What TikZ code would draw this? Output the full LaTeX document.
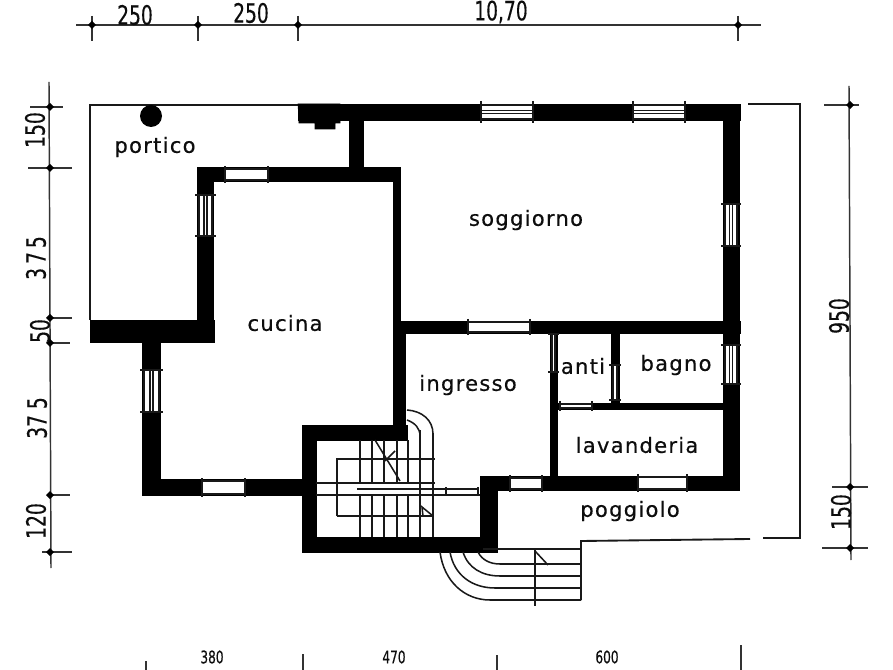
\documentclass[tikz,border=0pt]{standalone}
\usepackage{fontspec}
\setmainfont{DejaVu Sans}
\newfontfamily\roomf[LetterSpace=6,FakeBold=0.4]{DejaVu Sans}
\newfontfamily\dimf[FakeStretch=0.7,FakeBold=0.3]{DejaVu Sans}
\tikzset{
  wall/.style={fill=black,draw=black,line width=0.4pt},
  thin/.style={line width=1.4pt,black!90},
  stairl/.style={line width=1.15pt,black!90},
  dimline/.style={line width=1.1pt,black!80},
  dimdot/.style={fill=black,draw=none},
  room/.style={font=\roomf\fontsize{15.8}{18}\selectfont,inner sep=0pt,black!95},
  dimt/.style={font=\dimf\fontsize{20}{22}\selectfont,inner sep=0pt,black!95},
  vdimt/.style={dimt,rotate=90},
  dimlow/.style={font=\dimf\fontsize{13}{14}\selectfont,inner sep=0pt,black!95},
}
\newcommand{\winh}[4]{% x1 x2 y1 y2
  \fill[white] (#1,#3) rectangle (#2,#4);
  \draw[stairl] (#1,#3+1) -- (#2,#3+1);
  \draw[stairl] (#1,#4-1) -- (#2,#4-1);
  \draw[stairl] (#1,{(#3+#4)/2-1.5}) -- (#2,{(#3+#4)/2-1.5});
  \draw[stairl] (#1,{(#3+#4)/2+1.5}) -- (#2,{(#3+#4)/2+1.5});
  \draw[stairl] (#1,#3-3) -- (#1,#4+3);
  \draw[stairl] (#2,#3-3) -- (#2,#4+3);
}
\newcommand{\winv}[4]{% y1 y2 x1 x2
  \fill[white] (#3,#1) rectangle (#4,#2);
  \draw[stairl] (#3+1,#1) -- (#3+1,#2);
  \draw[stairl] (#4-1,#1) -- (#4-1,#2);
  \draw[stairl] ({(#3+#4)/2-1.5},#1) -- ({(#3+#4)/2-1.5},#2);
  \draw[stairl] ({(#3+#4)/2+1.5},#1) -- ({(#3+#4)/2+1.5},#2);
  \draw[stairl] (#3-3,#1) -- (#4+3,#1);
  \draw[stairl] (#3-3,#2) -- (#4+3,#2);
}
\newcommand{\doorh}[4]{%
  \fill[white] (#1,#3) rectangle (#2,#4);
  \draw[stairl] (#1,#3+1) -- (#2,#3+1);
  \draw[stairl] (#1,#4-1) -- (#2,#4-1);
  \draw[stairl] (#1,#3-2) -- (#1,#4+2);
  \draw[stairl] (#2,#3-2) -- (#2,#4+2);
}
\newcommand{\doorv}[4]{%
  \fill[white] (#3,#1) rectangle (#4,#2);
  \draw[stairl] (#3+1,#1) -- (#3+1,#2);
  \draw[stairl] (#4-1,#1) -- (#4-1,#2);
  \draw[stairl] (#3-3,#1) -- (#4+3,#1);
  \draw[stairl] (#3-3,#2) -- (#4+3,#2);
}
\begin{document}
\begin{tikzpicture}[x=0.75pt,y=-0.75pt]
\useasboundingbox (0,0) rectangle (893,670);
\fill[white] (0,0) rectangle (893,670);

% thin outline of portico and balcony
\draw[thin] (298,105) -- (90,105) -- (90,320);
\draw[thin] (748,104) -- (800,104) -- (800,538) -- (763,538);
\draw[thin] (750,539) -- (581,541) -- (581,600);

% column
\fill (151,116) circle (11);

% walls
\path[wall] (298,104) rectangle (740,120);
\path[wall] (298,104) -- (340,104) -- (340,123) -- (335,123) -- (335,129) -- (315,129) -- (315,123) -- (299,123) -- cycle;
\path[wall] (349,118) rectangle (363,170);
\path[wall] (197,167) rectangle (400,181);
\path[wall] (197,167) rectangle (213,322);
\path[wall] (90,320) rectangle (214,342);
\path[wall] (142,342) rectangle (160,495);
\path[wall] (143,479) rectangle (304,495);
\path[wall] (302,425) rectangle (407,440);
\path[wall] (302,425) rectangle (316,552);
\path[wall] (302,537) rectangle (497,552);
\path[wall] (480,477) rectangle (497,552);
\path[wall] (393,178) rectangle (400,335);
\path[wall] (393,330) rectangle (405,430);
\path[wall] (393,321) rectangle (740,333);
\path[wall] (723,104) rectangle (739,490);
\path[wall] (480,476) rectangle (739,490);
\path[wall] (550,330) rectangle (557,480);
\path[wall] (611,330) rectangle (619,405);
\path[wall] (555,403) rectangle (725,409);

% windows
\winh{481}{533}{104}{120}
\winh{633}{685}{104}{120}
\doorh{225}{268}{168}{181}
\winv{195}{236}{198}{213}
\winv{370}{412}{143}{160}
\doorh{202}{245}{480}{495}
\doorh{468}{530}{321}{333}
\winv{204}{246}{724}{738}
\winv{345}{384}{724}{738}
\doorh{510}{542}{477}{490}
\doorh{638}{687}{476}{490}
\doorv{334}{372}{551}{556}
\doorv{365}{400}{612}{618}
\doorh{560}{592}{403}{409}

% inner stairs
\foreach \x in {360,372,384,397,408} {
  \draw[stairl] (\x,440) -- (\x,483);
  \draw[stairl] (\x,495) -- (\x,537);
}
\draw[stairl] (420,430) -- (420,537);
\draw[stairl] (433,433) -- (433,537);
\draw[stairl] (407,410) .. controls (422,411) and (433,420) .. (433,434);
\draw[stairl] (407,420) .. controls (415,423) and (420,428) .. (420,436);
\draw[stairl] (337,516) -- (337,459) -- (435,459);
\draw[stairl] (337,516) -- (433,516);
\draw[stairl] (316,483) -- (435,483);
\draw[stairl] (357,489) -- (478,489);
\draw[stairl] (316,495) -- (480,495);
\draw[stairl] (446,487) -- (446,496);
\draw[stairl] (478,487) -- (478,496);
\draw[stairl] (375,440) -- (400,481);
\draw[stairl] (385,461) -- (395,451);
\draw[stairl] (423,516) -- (422,507) -- (433,516);

% outer stairs
\draw[stairl] (483,549) -- (581,549);
\draw[stairl] (478,552) .. controls (482,560) and (490,564) .. (500,564) -- (581,564);
\draw[stairl] (463,552) .. controls (468,568) and (482,576) .. (500,576) -- (581,576);
\draw[stairl] (450,552) .. controls (454,575) and (472,588) .. (495,588) -- (581,588);
\draw[stairl] (440,552) .. controls (444,582) and (465,600) .. (490,600) -- (581,600);
\draw[stairl] (535,550) -- (535,606);
\draw[stairl] (535,551) -- (548,565);

% dimension lines: top
\draw[dimline] (76,25) -- (761,25);
\foreach \x in {92,198,298,738} {
  \draw[dimline] (\x,16) -- (\x,41);
  \path[dimdot] (\x,21) -- (\x+4,25) -- (\x,29) -- (\x-4,25) -- cycle;
}
% left
\draw[dimline] (49,82) -- (51,568);
\foreach \y/\a/\b in {107/30/63,168/28/72,318/47/72,343/47/70,495/47/70,552/42/72} {
  \draw[dimline] (\a,\y) -- (\b,\y);
  \path[dimdot] (50,\y-4) -- (54,\y) -- (50,\y+4) -- (46,\y) -- cycle;
}
% right
\draw[dimline] (849,86) -- (851,560);
\foreach \y/\a/\b in {105/824/859,487/832/868,548/822/868} {
  \draw[dimline] (\a,\y) -- (\b,\y);
  \path[dimdot] (850,\y-4) -- (854,\y) -- (850,\y+4) -- (846,\y) -- cycle;
}
% bottom
\draw[dimline] (146,661) -- (146,670);
\draw[dimline] (303,654) -- (303,670);
\draw[dimline] (497,655) -- (497,670);
\draw[dimline] (741,645) -- (741,670);

% dimension texts
\node[dimt] (d1) at (135,15) {250};
\node[dimt] (d2) at (251,13) {250};
\node[dimt] (d3) at (501,12) {10,70};
\node[vdimt] (d4) at (35,130) {150};
\node[vdimt] (d5) at (36,258) {3\kern3pt7\kern3pt5};
\node[vdimt] (d6) at (40,331) {50};
\node[vdimt] (d7) at (37,418) {37 5};
\node[vdimt] (d8) at (36,521) {120};
\node[vdimt] (d9) at (839,316) {950};
\node[vdimt] (d10) at (841,512) {150};
\node[dimlow] (d11) at (212,657) {380};
\node[dimlow] (d12) at (394,657) {470};
\node[dimlow] (d13) at (607,657) {600};

% room labels
\node[room] (r1) at (155,147) {portico};
\node[room] (r2) at (526,220) {soggiorno};
\node[room] (r3) at (285,323) {cucina};
\node[room] (r4) at (468,385) {ingresso};
\node[room] (r5) at (583,366) {anti};
\node[room] (r6) at (676,365) {bagno};
\node[room] (r7) at (637,445) {lavanderia};
\node[room] (r8) at (630,511) {poggiolo};
\end{tikzpicture}
\end{document}
